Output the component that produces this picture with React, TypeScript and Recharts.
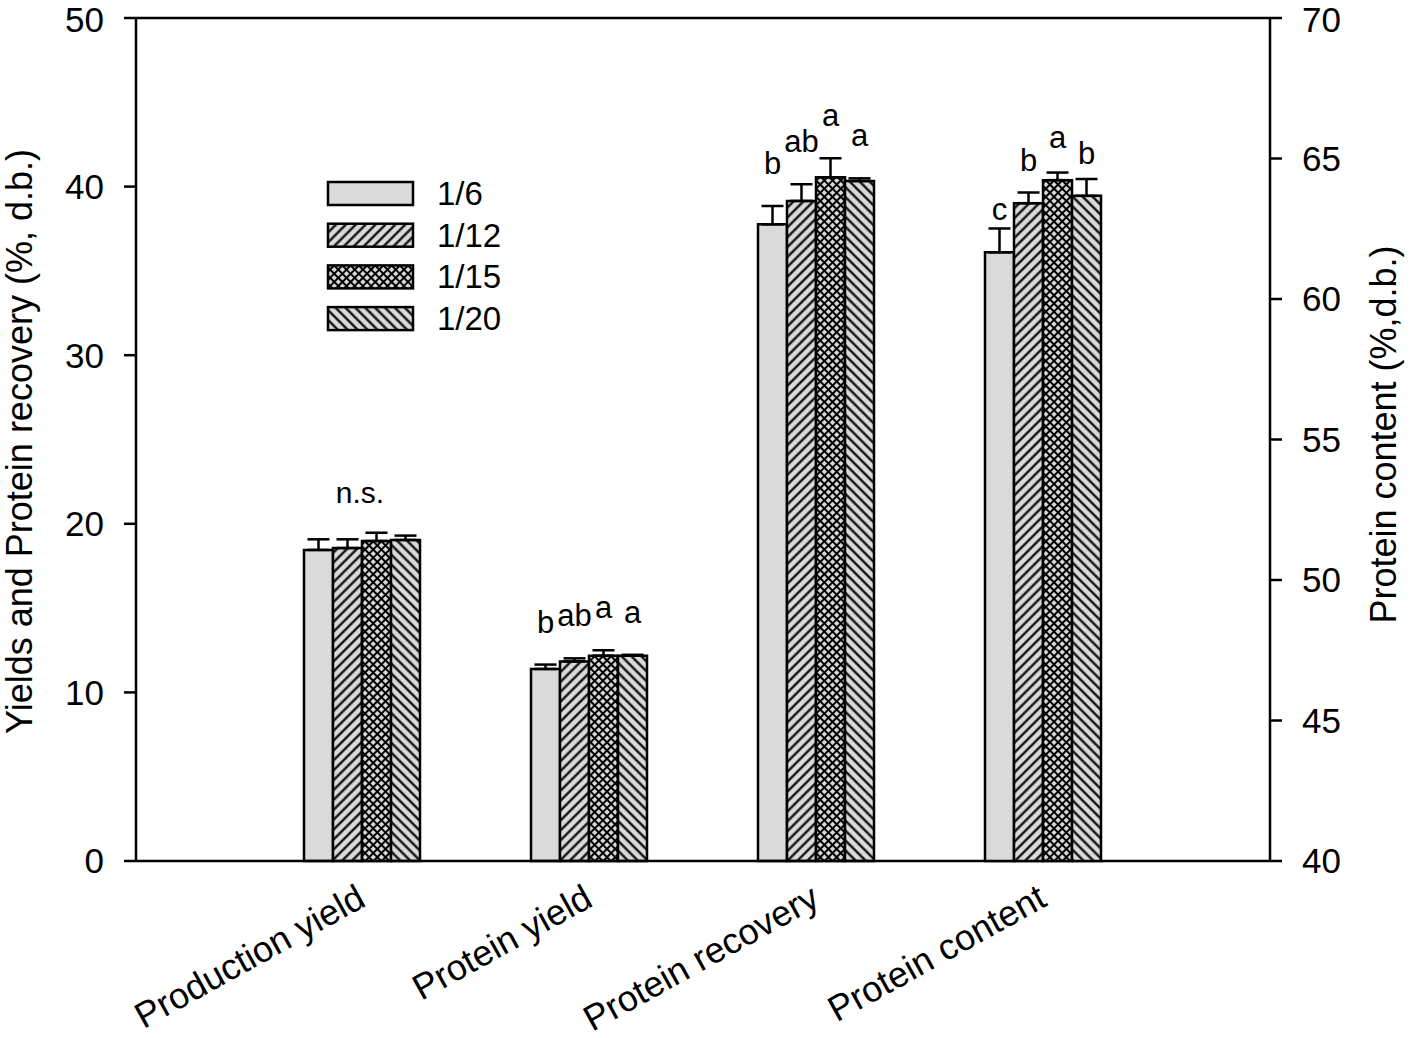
import React from "react";
import {
  BarChart,
  Bar,
  XAxis,
  YAxis,
  ErrorBar,
  LabelList,
  ReferenceLine,
  Legend,
} from "recharts";

const categories = ["Production yield", "Protein yield", "Protein recovery", "Protein content"];
const ratios = ["1/6", "1/12", "1/15", "1/20"];

// one entry per ratio (1/6, 1/12, 1/15, 1/20)
const productionYield = [18.45, 18.56, 18.98, 19.04];
const productionYieldErr = [0.63, 0.52, 0.49, 0.26];
const proteinYield = [11.39, 11.84, 12.18, 12.18];
const proteinYieldErr = [0.26, 0.18, 0.32, 0.05];
const proteinRecovery = [37.76, 39.15, 40.55, 40.33];
const proteinRecoveryErr = [1.09, 0.99, 1.13, 0.16];
// protein content is read on the right axis
const proteinContent = [61.66, 63.41, 64.23, 63.67];
const proteinContentErr = [0.85, 0.38, 0.27, 0.6];

const proteinYieldLetters = ["b", "ab", "a", "a"];
const proteinRecoveryLetters = ["b", "ab", "a", "a"];
const proteinContentLetters = ["c", "b", "a", "b"];
const productionYieldNote = "n.s.";

const leftTicks = [0, 10, 20, 30, 40, 50];
const rightTicks = [40, 45, 50, 55, 60, 65, 70];

const W = 1414;
const H = 1038;
const FONT = "'Liberation Sans', Arial, sans-serif";
const LIGHT = "#dadada";
const fills = ["#dadada", "url(#hatchFwd)", "url(#crossHatch)", "url(#hatchBack)"];
const margin = { top: 18, right: 0, bottom: 0, left: 0 };
const axisStroke = { stroke: "#000", strokeWidth: 2.5 };

const makeRow = (name: string, values: number[] | null, errs: number[] | null, letters: string[] | null) => {
  const row: any = { name };
  ratios.forEach((_, k) => {
    row[`v${k}`] = values ? values[k] : null;
    row[`e${k}`] = values && errs ? [0, errs[k]] : null;
    row[`l${k}`] = letters ? letters[k] : "";
  });
  return row;
};

const leftData = [
  { ...makeRow(categories[0], productionYield, productionYieldErr, null), note: productionYieldNote },
  makeRow(categories[1], proteinYield, proteinYieldErr, proteinYieldLetters),
  makeRow(categories[2], proteinRecovery, proteinRecoveryErr, proteinRecoveryLetters),
  makeRow(categories[3], null, null, null),
];

const rightData = [
  makeRow(categories[0], null, null, null),
  makeRow(categories[1], null, null, null),
  makeRow(categories[2], null, null, null),
  makeRow(categories[3], proteinContent, proteinContentErr, proteinContentLetters),
];

// place a letter above the error bar cap of its bar
const letterLabel = (data: any[], k: number, base: number) => (props: any) => {
  const { x, y, width, height, value, index } = props;
  if (!value) return null;
  const row = data[index];
  const v = row[`v${k}`];
  const err = row[`e${k}`] ? row[`e${k}`][1] : 0;
  const unit = height / (v - base);
  const top = y - err * unit;
  return (
    <text x={x + width / 2} y={top - 32} textAnchor="middle" fontSize={31} fill="#000">
      {value}
    </text>
  );
};

const noteLabel = (props: any) => {
  const { x, y, height, value, index } = props;
  if (!value) return null;
  const row = leftData[index];
  const unit = height / row.v2;
  const top = y - row.e2[1] * unit;
  return (
    <text x={x - 2} y={top - 30} textAnchor="middle" fontSize={30} fill="#000">
      {value}
    </text>
  );
};

const CategoryTick = (props: any) => {
  const { x, y, payload } = props;
  const tx = x + 5;
  const ty = y + 44;
  return (
    <text x={tx} y={ty} textAnchor="end" fontSize={36} fill="#000" transform={`rotate(-29, ${tx}, ${ty})`}>
      {payload.value}
    </text>
  );
};

const LeftTitle = (props: any) => {
  const { viewBox } = props;
  const cx = viewBox.x + 32;
  const cy = viewBox.y + viewBox.height / 2 + 2;
  return (
    <text x={cx} y={cy} textAnchor="middle" fontSize={36} fill="#000" transform={`rotate(-90, ${cx}, ${cy})`}>
      Yields and Protein recovery (%, d.b.)
    </text>
  );
};

const RightTitle = (props: any) => {
  const { viewBox } = props;
  const cx = viewBox.x + 126;
  const cy = viewBox.y + viewBox.height / 2 - 5;
  return (
    <text x={cx} y={cy} textAnchor="middle" fontSize={36} fill="#000" transform={`rotate(-90, ${cx}, ${cy})`}>
      Protein content (%,d.b.)
    </text>
  );
};

// legend rows follow the series order, not the legend's sorted payload
const LegendBoxes = () => (
  <svg width={240} height={175} style={{ display: "block", overflow: "visible" }}>
    {ratios.map((r, k) => (
      <g key={r} transform={`translate(0, ${k * 41.7})`}>
        <rect x={2} y={4} width={85} height={23} fill={fills[k]} stroke="#000" strokeWidth={2.5} />
        <text x={111} y={27} fontSize={33} fill="#000" fontFamily={FONT}>
          {r}
        </text>
      </g>
    ))}
  </svg>
);

const Patterns = () => (
  <defs>
    <pattern id="hatchFwd" patternUnits="userSpaceOnUse" width={7} height={7} patternTransform="rotate(45)">
      <rect width={7} height={7} fill={LIGHT} />
      <line x1={3.5} y1={0} x2={3.5} y2={7} stroke="#000" strokeWidth={2.2} />
    </pattern>
    <pattern id="hatchBack" patternUnits="userSpaceOnUse" width={7} height={7} patternTransform="rotate(-45)">
      <rect width={7} height={7} fill={LIGHT} />
      <line x1={3.5} y1={0} x2={3.5} y2={7} stroke="#000" strokeWidth={2.2} />
    </pattern>
    <pattern id="crossHatch" patternUnits="userSpaceOnUse" width={5.8} height={5.8} patternTransform="rotate(45)">
      <rect width={5.8} height={5.8} fill={LIGHT} />
      <line x1={2.9} y1={0} x2={2.9} y2={5.8} stroke="#000" strokeWidth={2} />
      <line x1={0} y1={2.9} x2={5.8} y2={2.9} stroke="#000" strokeWidth={2} />
    </pattern>
  </defs>
);

const App: React.FC = () => {
  return (
    <div style={{ position: "absolute", left: 0, top: 0, width: W, height: H, background: "#fff", fontFamily: FONT }}>
      <BarChart width={W} height={H} data={leftData} margin={margin} barCategoryGap={55} barGap={0}>
        <Patterns />
        <XAxis
          dataKey="name"
          height={177}
          padding={{ left: 113, right: 113 }}
          interval={0}
          tickLine={false}
          tickSize={0}
          tickMargin={0}
          axisLine={axisStroke}
          tick={<CategoryTick />}
        />
        <YAxis
          yAxisId="left"
          domain={[0, 50]}
          ticks={leftTicks}
          width={136}
          tickSize={12}
          tickMargin={20}
          axisLine={axisStroke}
          tickLine={axisStroke}
          tick={{ fill: "#000", fontSize: 35 }}
          label={<LeftTitle />}
        />
        <YAxis yAxisId="right" orientation="right" domain={[40, 70]} width={144} tick={false} axisLine={false} tickLine={false} />
        <ReferenceLine yAxisId="left" y={50} stroke="#000" strokeWidth={2.5} />
        {ratios.map((r, k) => (
          <Bar
            key={r}
            yAxisId="left"
            dataKey={`v${k}`}
            name={r}
            fill={fills[k]}
            stroke="#000"
            strokeWidth={2.5}
            isAnimationActive={false}
          >
            <ErrorBar dataKey={`e${k}`} direction="y" width={11} stroke="#000" strokeWidth={2.5} />
            <LabelList dataKey={`l${k}`} content={letterLabel(leftData, k, 0)} />
            {k === 2 && <LabelList dataKey="note" content={noteLabel} />}
          </Bar>
        ))}
        <Legend
          layout="horizontal"
          verticalAlign="middle"
          align="center"
          wrapperStyle={{ top: 178, left: 326, width: 240 }}
          content={<LegendBoxes />}
        />
      </BarChart>
      <div style={{ position: "absolute", left: 0, top: 0, pointerEvents: "none" }}>
        <BarChart width={W} height={H} data={rightData} margin={margin} barCategoryGap={55} barGap={0}>
          <XAxis
            dataKey="name"
            height={177}
            padding={{ left: 113, right: 113 }}
            interval={0}
            tick={false}
            tickLine={false}
            axisLine={false}
          />
          <YAxis yAxisId="left" domain={[0, 50]} width={136} tick={false} axisLine={false} tickLine={false} />
          <YAxis
            yAxisId="right"
            orientation="right"
            domain={[40, 70]}
            ticks={rightTicks}
            width={144}
            tickSize={12}
            tickMargin={20}
            axisLine={axisStroke}
            tickLine={axisStroke}
            tick={{ fill: "#000", fontSize: 35 }}
            label={<RightTitle />}
          />
          {ratios.map((r, k) => (
            <Bar
              key={r}
              yAxisId="right"
              dataKey={`v${k}`}
              name={r}
              fill={fills[k]}
              stroke="#000"
              strokeWidth={2.5}
              isAnimationActive={false}
            >
              <ErrorBar dataKey={`e${k}`} direction="y" width={11} stroke="#000" strokeWidth={2.5} />
              <LabelList dataKey={`l${k}`} content={letterLabel(rightData, k, 40)} />
            </Bar>
          ))}
        </BarChart>
      </div>
    </div>
  );
};

export default App;
